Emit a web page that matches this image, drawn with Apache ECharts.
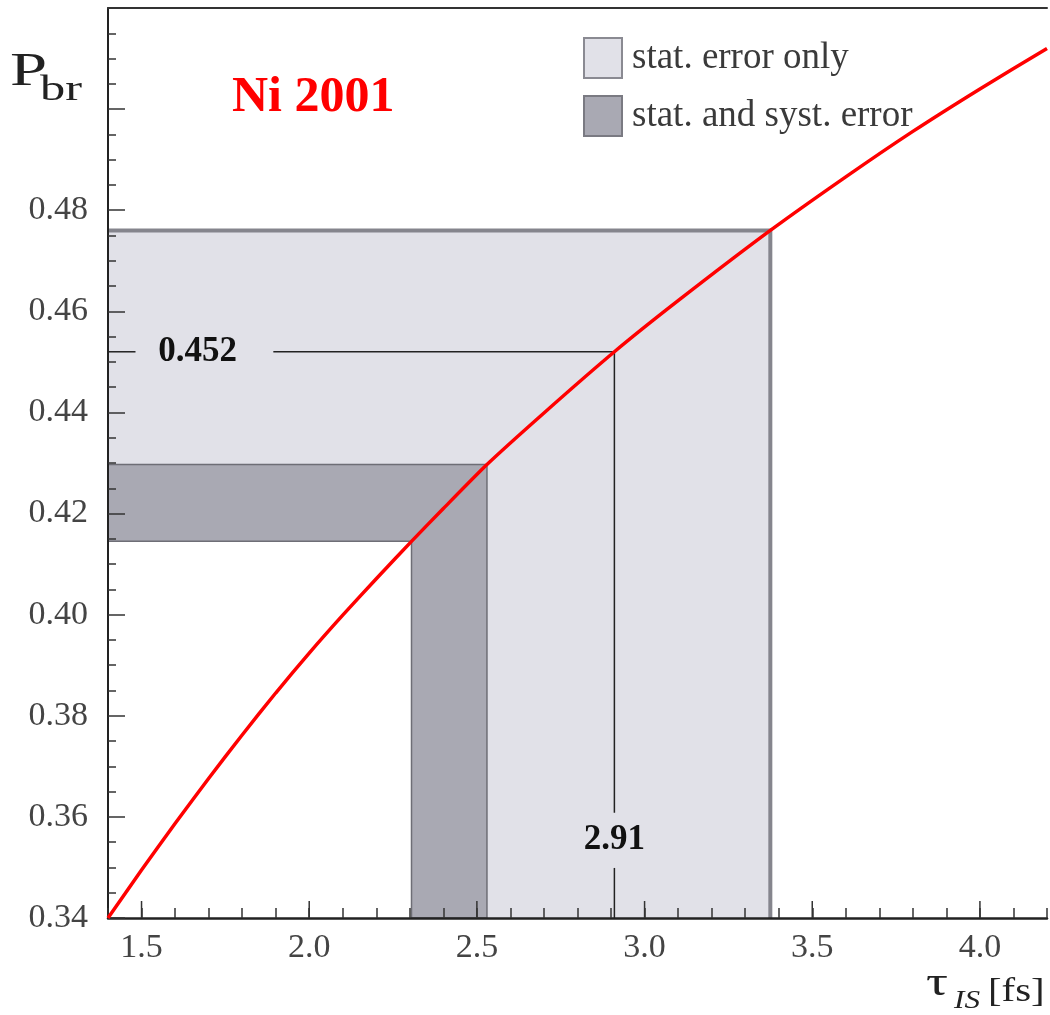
<!DOCTYPE html>
<html><head><meta charset="utf-8">
<script src="https://cdn.jsdelivr.net/npm/echarts@6/dist/echarts.min.js"></script>
<style>html,body{margin:0;padding:0;background:#fff}#c{width:1050px;height:1015px}</style>
</head><body><div id="c"></div>
<script>
// ---- data ----
const tau = [1.40, 1.50, 1.60, 1.70, 1.80, 1.90, 2.00, 2.10, 2.20, 2.305, 2.40, 2.53, 2.70, 2.91, 3.10, 3.375, 3.60, 3.80, 4.00, 4.20];
const pbr = [0.3400, 0.3495, 0.3587, 0.3676, 0.3762, 0.3845, 0.3924, 0.3999, 0.4071, 0.4145, 0.4210, 0.4297, 0.4399, 0.4520, 0.4621, 0.4760, 0.4866, 0.4956, 0.5040, 0.5120];
const xMajorTicks = [1.5, 2.0, 2.5, 3.0, 3.5, 4.0];
const xRange = [1.4, 4.2];
const yRange = [0.34, 0.52];
const tauCentral = 2.91, pCentral = 0.452;
const tauStatLo = 2.53, tauStatHi = 3.375, tauSystLo = 2.305;
const pStatLo = 0.4297, pStatHi = 0.476, pSystLo = 0.4145;
const seriesNames = ['stat. error only', 'stat. and syst. error'];
const titleText = 'Ni 2001';

// ---- layout / style ----
const SERIF = '"Liberation Serif", "Times New Roman", serif';
const LIGHT = '#e1e1e8', DARK = '#a9a9b3';
const hGapTau = [1.482, 1.893], hLabelTau = 1.667;
const vGapP = [0.3499, 0.3608], vLabelP = 0.3554;

const statShape = [[xRange[0], pStatHi], [tauStatHi, pStatHi], [tauStatHi, yRange[0]], [tauStatLo, yRange[0]], [tauStatLo, pStatLo], [xRange[0], pStatLo]];
const systShape = [[xRange[0], pStatLo], [tauStatLo, pStatLo], [tauStatLo, yRange[0]], [tauSystLo, yRange[0]], [tauSystLo, pSystLo], [xRange[0], pSystLo]];

const chart = echarts.init(document.getElementById('c'));
const pts = (api, list) => list.map(p => api.coord(p));
const isMajor = v => Math.abs(v * 2 - Math.round(v * 2)) < 1e-6;

const option = {
  animation: false,
  textStyle: { fontFamily: SERIF },
  grid: { left: 108, top: 8, right: 0, bottom: 97, containLabel: false },
  legend: {
    orient: 'vertical', left: 583, top: 37, padding: 0,
    itemWidth: 38, itemHeight: 40, itemGap: 16, selectedMode: false,
    textStyle: { fontFamily: SERIF, fontSize: 37, color: '#3a3a3a', padding: [0, 0, 0, 5] },
    data: [
      { name: seriesNames[0], icon: 'rect', itemStyle: { color: LIGHT, borderColor: '#8a8a92', borderWidth: 2 } },
      { name: seriesNames[1], icon: 'rect', itemStyle: { color: DARK, borderColor: '#7a7a82', borderWidth: 2 } }
    ]
  },
  xAxis: [{
    type: 'value', min: xRange[0], max: xRange[1], interval: 0.1, position: 'bottom', z: 10,
    axisLine: { onZero: false, lineStyle: { color: '#222', width: 2.5 } },
    axisTick: { inside: true, length: 10, lineStyle: { color: '#333', width: 1.5 } },
    axisLabel: { formatter: v => isMajor(v) ? v.toFixed(1) : '', fontFamily: SERIF, fontSize: 34, color: '#444', margin: 13 },
    splitLine: { show: false }
  }, {
    type: 'value', min: xRange[0], max: xRange[1], position: 'top', z: 10,
    axisLine: { onZero: false, lineStyle: { color: '#333', width: 2 } },
    axisTick: { show: false }, axisLabel: { show: false }, splitLine: { show: false }
  }],
  yAxis: {
    type: 'value', min: yRange[0], max: yRange[1], interval: 0.02, z: 10,
    axisLine: { show: true, onZero: false, lineStyle: { color: '#222', width: 2 } },
    axisTick: { inside: true, length: 17, lineStyle: { color: '#333', width: 1.5 } },
    minorTick: { show: true, splitNumber: 4, length: 8, lineStyle: { color: '#333', width: 1.5 } },
    axisLabel: { formatter: v => v > 0.49 ? '' : v.toFixed(2), fontFamily: SERIF, fontSize: 34, color: '#444', margin: 20 },
    splitLine: { show: false }, minorSplitLine: { show: false }
  },
  series: [
    {
      name: seriesNames[0], type: 'custom', z: 2,
      itemStyle: { color: LIGHT },
      data: [[tauCentral, pCentral]],
      renderItem: (params, api) => ({
        type: 'group', children: [
          { type: 'polygon', shape: { points: pts(api, statShape) }, style: { fill: LIGHT } },
          { type: 'polyline', shape: { points: pts(api, statShape.slice(0, 3)) }, style: { stroke: '#85858d', lineWidth: 4, fill: null } }
        ]
      })
    },
    {
      name: seriesNames[1], type: 'custom', z: 3,
      itemStyle: { color: DARK },
      data: [[tauCentral, pCentral]],
      renderItem: (params, api) => ({
        type: 'polygon', shape: { points: pts(api, systShape) },
        style: { fill: DARK, stroke: '#6e6e76', lineWidth: 1.5 }
      })
    },
    {
      name: 'annot', type: 'custom', z: 5,
      data: [[tauCentral, pCentral]],
      renderItem: (params, api) => {
        const a = api.coord([xRange[0], pCentral]);
        const b = api.coord([hGapTau[0], pCentral]);
        const c = api.coord([hGapTau[1], pCentral]);
        const d = api.coord([tauCentral, pCentral]);
        const e = api.coord([tauCentral, vGapP[1]]);
        const f = api.coord([tauCentral, vGapP[0]]);
        const g = api.coord([tauCentral, yRange[0]]);
        const t1 = api.coord([hLabelTau, pCentral]);
        const t2 = api.coord([tauCentral, vLabelP]);
        const ls = { stroke: '#222', lineWidth: 1.5 };
        return {
          type: 'group', children: [
            { type: 'line', shape: { x1: a[0], y1: a[1], x2: b[0], y2: b[1] }, style: ls },
            { type: 'line', shape: { x1: c[0], y1: c[1], x2: d[0], y2: d[1] }, style: ls },
            { type: 'line', shape: { x1: d[0], y1: d[1], x2: e[0], y2: e[1] }, style: ls },
            { type: 'line', shape: { x1: f[0], y1: f[1], x2: g[0], y2: g[1] }, style: ls },
            { type: 'text', x: t1[0], y: t1[1], style: { text: pCentral.toFixed(3), font: 'bold 35px ' + SERIF, fill: '#111', align: 'center', verticalAlign: 'middle' } },
            { type: 'text', x: t2[0], y: t2[1], style: { text: tauCentral.toFixed(2), font: 'bold 35px ' + SERIF, fill: '#111', align: 'center', verticalAlign: 'middle' } }
          ]
        };
      }
    },
    {
      name: 'majorTicks', type: 'custom', z: 12,
      data: xMajorTicks.map(v => [v, yRange[0]]),
      renderItem: (params, api) => {
        const p = api.coord([api.value(0), api.value(1)]);
        return { type: 'line', shape: { x1: p[0], y1: p[1], x2: p[0], y2: p[1] - 17 }, style: { stroke: '#333', lineWidth: 1.5 } };
      }
    },
    {
      name: 'Pbr', type: 'line', z: 20, showSymbol: false, smooth: 0.2, clip: true,
      data: tau.map((t, i) => [t, pbr[i]]),
      lineStyle: { color: '#ff0000', width: 3.5 }
    }
  ],
  graphic: [
    { type: 'text', x: 232, y: 98, z: 30, style: { text: titleText, font: 'bold 50px ' + SERIF, fill: '#ff0000', align: 'left', verticalAlign: 'middle' } },
    { type: 'text', x: 10, y: 73, scaleX: 1.45, z: 30, style: { text: 'P', font: '46px ' + SERIF, fill: '#222', align: 'left', verticalAlign: 'middle' } },
    { type: 'text', x: 40, y: 91, scaleX: 1.4, z: 30, style: { text: 'br', font: '36px ' + SERIF, fill: '#222', align: 'left', verticalAlign: 'middle' } },
    { type: 'text', x: 926, y: 984, scaleX: 1.3, z: 30, style: { text: 'τ', font: '42px ' + SERIF, fill: '#222', align: 'left', verticalAlign: 'middle' } },
    { type: 'text', x: 954, y: 1001, scaleX: 1.2, z: 30, style: { text: 'IS', font: 'italic 26px ' + SERIF, fill: '#222', align: 'left', verticalAlign: 'middle' } },
    { type: 'text', x: 988, y: 992, scaleX: 1.2, z: 30, style: { text: '[fs]', font: '34px ' + SERIF, fill: '#222', align: 'left', verticalAlign: 'middle' } }
  ]
};
chart.setOption(option);
</script>
</body></html>
